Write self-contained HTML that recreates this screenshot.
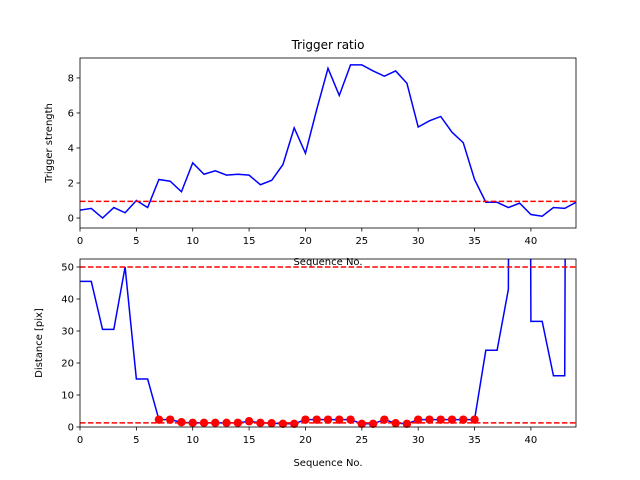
<!DOCTYPE html>
<html><head><meta charset="utf-8"><style>body{margin:0;background:#fff}svg{display:block;font-family:"DejaVu Sans","Liberation Sans",sans-serif}</style></head>
<body>
<svg id="c" width="640" height="480"></svg>
<script>
const seq = Array.from({length:45},(_,i)=>i);
const trigger = [0.45,0.55,0,0.6,0.3,1.0,0.6,2.2,2.1,1.5,3.15,2.5,2.7,2.45,2.5,2.45,1.9,2.15,3.05,5.15,3.7,6.2,8.55,7.0,8.75,8.75,8.4,8.1,8.4,7.7,5.2,5.55,5.8,4.9,4.3,2.2,0.9,0.9,0.6,0.85,0.2,0.1,0.6,0.55,0.9];
const triggerThreshold = 0.95;
const distance = [45.5,45.5,30.5,30.5,50,15,15,2.3,2.3,1.5,1.3,1.3,1.3,1.3,1.3,1.8,1.3,1.2,1,1,2.3,2.3,2.3,2.3,2.3,1,1,2.3,1.2,1,2.3,2.3,2.3,2.3,2.3,2.3,24,24,43,1000,33,33,16,16,1000];
const dotIdx = [7,8,9,10,11,12,13,14,15,16,17,18,19,20,21,22,23,24,25,26,27,28,29,30,31,32,33,34,35];
const distThresholds = [50,1.3];
const xTicks = [0,5,10,15,20,25,30,35,40];
const yTicksTop = [0,2,4,6,8];
const yTicksBot = [0,10,20,30,40,50];

const NS="http://www.w3.org/2000/svg", svg=document.getElementById('c');
function mk(t,a,p){const e=document.createElementNS(NS,t);for(const k in a)e.setAttribute(k,a[k]);(p||svg).appendChild(e);return e;}
const L=80,R=576;
const X=v=>L+(v-0)/(44-0)*(R-L);
function panel(top,bot,ymin,ymax,ticks,name){
  const Y=v=>bot-(v-ymin)/(ymax-ymin)*(bot-top);
  const g=mk('g',{});
  
  
  const cid='clip'+name;
  const cp=mk('clipPath',{id:cid},g);mk('rect',{x:L,y:top,width:R-L,height:bot-top},cp);
  xTicks.forEach(t=>{mk('line',{x1:X(t),x2:X(t),y1:bot,y2:bot+3.5,stroke:'#000','stroke-width':0.8},g);
    const tx=mk('text',{x:X(t),y:bot+16,'text-anchor':'middle','font-size':10},g);tx.textContent=t;
    });
  ticks.forEach(t=>{mk('line',{x1:L-3.5,x2:L,y1:Y(t),y2:Y(t),stroke:'#000','stroke-width':0.8},g);
    const tx=mk('text',{x:L-6,y:Y(t)+3.5,'text-anchor':'end','font-size':10},g);tx.textContent=t;
    });
  return {g,Y,cid};
}
// top
const p1=panel(58,228,-0.57,9.14,yTicksTop,'trigger-panel');
const c1=mk('g',{'clip-path':'url(#'+p1.cid+')'},p1.g);
const l1=mk('polyline',{points:seq.map(i=>X(i)+','+p1.Y(trigger[i])).join(' '),fill:'none',stroke:'#0000ff','stroke-width':1.5},c1);

const th1=mk('line',{x1:L,x2:R,y1:p1.Y(triggerThreshold),y2:p1.Y(triggerThreshold),stroke:'#ff0000','stroke-width':1.5,'stroke-dasharray':'5.5,2.4'},c1);

mk('rect',{x:L,y:58,width:R-L,height:170,fill:'none',stroke:'#000','stroke-width':0.8},p1.g);
let t=mk('text',{x:328,y:49,'text-anchor':'middle','font-size':12});t.textContent='Trigger ratio';

t=mk('text',{x:0,y:0,'text-anchor':'middle','font-size':10,transform:'translate(52,143) rotate(-90)'});t.textContent='Trigger strength';

t=mk('text',{x:328,y:265,'text-anchor':'middle','font-size':10});t.textContent='Sequence No.';

// bottom
const p2=panel(259,427,0,52.5,yTicksBot,'distance-panel');
const c2=mk('g',{'clip-path':'url(#'+p2.cid+')'},p2.g);
const l2=mk('polyline',{points:seq.map(i=>X(i)+','+p2.Y(distance[i])).join(' '),fill:'none',stroke:'#0000ff','stroke-width':1.5},c2);

distThresholds.forEach(v=>{const e=mk('line',{x1:L,x2:R,y1:p2.Y(v),y2:p2.Y(v),stroke:'#ff0000','stroke-width':1.5,'stroke-dasharray':'5.5,2.4'},c2);
  });
dotIdx.forEach(i=>{const d=mk('circle',{cx:X(i),cy:p2.Y(distance[i]),r:4.2,fill:'#ff0000'},p2.g);
  });
mk('rect',{x:L,y:259,width:R-L,height:168,fill:'none',stroke:'#000','stroke-width':0.8},p2.g);
t=mk('text',{x:0,y:0,'text-anchor':'middle','font-size':10,transform:'translate(42,343) rotate(-90)'});t.textContent='Distance [pix]';

t=mk('text',{x:328,y:466,'text-anchor':'middle','font-size':10});t.textContent='Sequence No.';

</script>
</body></html>
